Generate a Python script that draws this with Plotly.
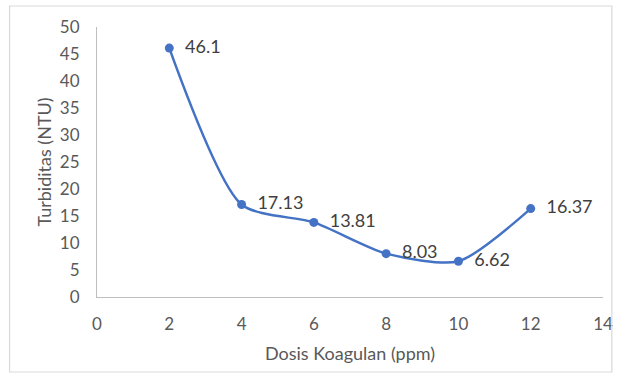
import plotly.graph_objects as go

dosis = [2, 4, 6, 8, 10, 12]
turbiditas = [46.1, 17.13, 13.81, 8.03, 6.62, 16.37]
labels = ["46.1", "17.13", "13.81", "8.03", "6.62", "16.37"]

font_family = "Lato, 'Open Sans', sans-serif"
gray = "#595959"

fig = go.Figure()
fig.add_trace(go.Scatter(
    x=dosis, y=turbiditas,
    mode="lines+markers+text",
    line=dict(color="#4472C4", width=2.5, shape="spline", smoothing=0.7),
    marker=dict(color="#4472C4", size=9),
    text=["  " + t for t in labels],
    textposition="middle right",
    textfont=dict(family=font_family, size=18, color="#404040"),
    cliponaxis=False,
    hoverinfo="skip",
))

fig.update_layout(
    width=625, height=380,
    margin=dict(l=97, r=13, t=27, b=83),
    paper_bgcolor="white", plot_bgcolor="white",
    showlegend=False,
    font=dict(family=font_family, size=17, color=gray),
    xaxis=dict(
        range=[0, 14], tickvals=[0, 2, 4, 6, 8, 10, 12, 14],
        showgrid=False, zeroline=False, showline=True,
        linecolor="#BFBFBF", linewidth=1.2,
        ticks="outside", ticklen=11, tickcolor="rgba(0,0,0,0)",
        title=dict(text="Dosis Koagulan (ppm)", standoff=14,
                   font=dict(size=18, color=gray)),
        tickfont=dict(size=17, color=gray),
    ),
    yaxis=dict(
        range=[0, 50], tickvals=list(range(0, 55, 5)),
        showgrid=False, zeroline=False, showline=True,
        linecolor="#BFBFBF", linewidth=1.2,
        ticks="outside", ticklen=13, tickcolor="rgba(0,0,0,0)",
        title=dict(text="Turbiditas (NTU)", standoff=3,
                   font=dict(size=18, color=gray)),
        tickfont=dict(size=17, color=gray),
    ),
    shapes=[dict(type="rect", xref="paper", yref="paper",
                 x0=-89/515, x1=1 + 9/515, y0=-75/270, y1=1 + 21/270,
                 line=dict(color="#D9D9D9", width=1.2))],
)

fig.write_html("out.html")
